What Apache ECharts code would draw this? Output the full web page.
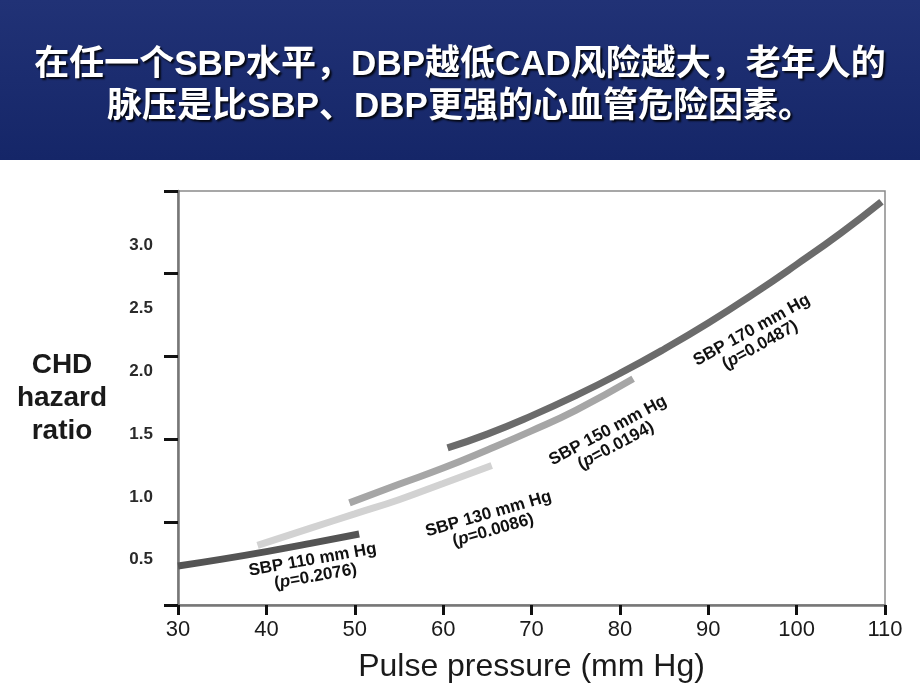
<!DOCTYPE html>
<html><head><meta charset="utf-8">
<script src="https://cdn.jsdelivr.net/npm/echarts@6/dist/echarts.min.js"></script>
<style>html,body{margin:0;padding:0;background:#fff}#c{width:920px;height:690px}</style>
</head><body><div id="c"></div>
<script>
// ---- data ----
const titleLines = ['在任一个SBP水平，DBP越低CAD风险越大，老年人的', '脉压是比SBP、DBP更强的心血管危险因素。'];
const xAxisTitle = 'Pulse pressure (mm Hg)';
const yAxisTitle = ['CHD', 'hazard', 'ratio'];
const xMin = 30, xMax = 110, xStep = 10;
const yLabelValues = [0.5, 1.0, 1.5, 2.0, 2.5, 3.0];
const yTickValues = [0.14, 0.80, 1.46, 2.12, 2.78, 3.435];
const seriesNames = ['SBP 110 mm Hg', 'SBP 130 mm Hg', 'SBP 150 mm Hg', 'SBP 170 mm Hg'];
const pValues = ['0.2076', '0.0086', '0.0194', '0.0487'];
const sbp110 = [[30, 0.45], [35, 0.505], [40, 0.565], [45, 0.63], [50.5, 0.705]];
const sbp130 = [[39, 0.615], [45, 0.752], [50, 0.865], [55, 0.978], [60, 1.107], [65.5, 1.25]];
const sbp150 = [[49.4, 0.953], [55, 1.101], [60, 1.23], [65, 1.374], [70, 1.526], [75, 1.689], [81.5, 1.94]];
const sbp170 = [[60.5, 1.39], [65, 1.5], [70, 1.645], [75, 1.806], [80, 1.983], [85, 2.176], [90, 2.384], [95, 2.61], [100, 2.85], [105, 3.1], [109.6, 3.35]];
// annotation anchors (data coords) for the label blocks
const annotAnchorX = [45.4, 65.4, 79.1, 95.4];
const annotAnchorY = [0.433, 0.799, 1.468, 2.267];

// ---- styles ----
const seriesData = [sbp110, sbp130, sbp150, sbp170];
const seriesColors = ['#545454', '#d2d2d2', '#a6a6a6', '#6b6b6b'];
const annotAngles = [10, 16, 28, 29];
const latin = '"Liberation Sans", Arial, sans-serif';

const chart = echarts.init(document.getElementById('c'), null, {renderer: 'canvas'});
const option = {
  backgroundColor: '#ffffff',
  animation: false,
  title: {
    text: titleLines.join('\n'),
    left: 460, top: 44, padding: 0, textAlign: 'center',
    textStyle: {
      color: '#ffffff', fontSize: 35, fontWeight: 'bold', lineHeight: 42, align: 'center',
      fontFamily: '"Liberation Sans", "Noto Sans CJK SC", sans-serif',
      textShadowColor: 'rgba(0,0,0,0.85)', textShadowOffsetX: 2, textShadowOffsetY: 2, textShadowBlur: 2
    }
  },
  graphic: [{
    type: 'rect', z: -10, silent: true,
    shape: {x: 0, y: 0, width: 920, height: 160},
    style: {fill: new echarts.graphic.LinearGradient(0, 0, 0, 1, [
      {offset: 0, color: '#213276'}, {offset: 1, color: '#152668'}])}
  }],
  grid: {left: 178, right: 35, top: 191, bottom: 85, show: true, borderColor: '#8a8a8a', borderWidth: 1.5},
  xAxis: {
    type: 'value', min: xMin, max: xMax, interval: xStep,
    name: xAxisTitle, nameLocation: 'middle', nameGap: 46,
    nameTextStyle: {fontSize: 32, color: '#1a1a1a', fontFamily: latin},
    axisLine: {show: true, lineStyle: {color: '#777', width: 2.5}},
    axisTick: {show: true, length: 10, lineStyle: {color: '#111', width: 3}},
    axisLabel: {fontSize: 22, color: '#1a1a1a', margin: 14, fontFamily: latin},
    splitLine: {show: false}
  },
  yAxis: {
    type: 'value', min: yTickValues[0], max: yTickValues[yTickValues.length - 1],
    name: yAxisTitle.join('\n'), nameLocation: 'middle', nameRotate: 0, nameGap: 116,
    nameTextStyle: {fontSize: 28, fontWeight: 'bold', color: '#1a1a1a', lineHeight: 33, align: 'center', verticalAlign: 'middle',
      fontFamily: latin},
    axisLine: {show: true, lineStyle: {color: '#777', width: 2.5}},
    axisTick: {show: true, length: 14, customValues: yTickValues, lineStyle: {color: '#111', width: 3}},
    axisLabel: {customValues: yLabelValues, fontSize: 17, fontWeight: 'bold', color: '#2a2a2a', margin: 25,
      formatter: v => v.toFixed(1), fontFamily: latin},
    splitLine: {show: false}
  },
  series: seriesData.map((d, i) => ({
    name: seriesNames[i], type: 'line', data: d, smooth: true, showSymbol: false, symbol: 'none',
    lineStyle: {color: seriesColors[i], width: 7, cap: 'butt'}, z: 3 + i
  }))
};
chart.setOption(option);

// annotation labels positioned through the chart's own coordinate system
const annots = seriesNames.map((n, i) => {
  const p = chart.convertToPixel({gridIndex: 0}, [annotAnchorX[i], annotAnchorY[i]]);
  return {
    type: 'text', x: p[0], y: p[1], rotation: annotAngles[i] * Math.PI / 180, z: 20,
    style: {
      text: n + '\n({i|p}=' + pValues[i] + ')',
      fill: '#111', font: 'bold 17px ' + latin,
      align: 'center', verticalAlign: 'middle', lineHeight: 17,
      rich: {i: {fontStyle: 'italic', fontWeight: 'bold', fontSize: 17, fill: '#111', fontFamily: latin}}
    }
  };
});
chart.setOption({graphic: option.graphic.concat(annots)});
</script></body></html>
